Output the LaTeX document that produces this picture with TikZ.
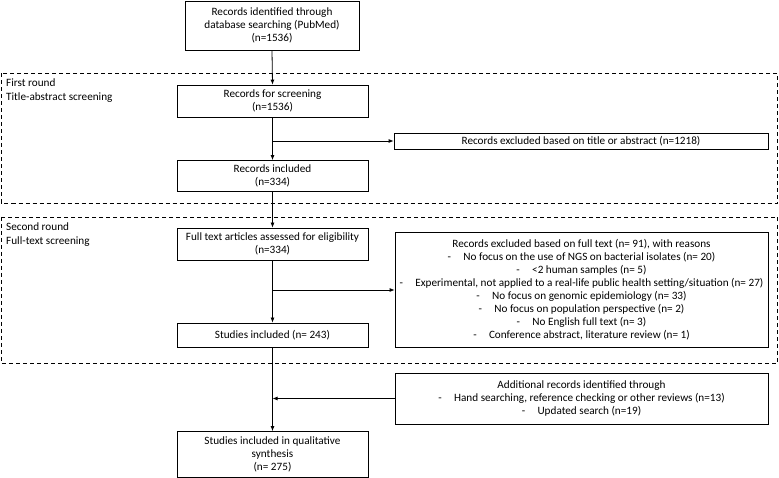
\documentclass[tikz,border=0pt]{standalone}
\usepackage{fontspec}
\setmainfont{Carlito}
\usetikzlibrary{arrows.meta}
\begin{document}
\begin{tikzpicture}[x=1pt,y=-1pt,
  box/.style={draw, line width=0.8pt, align=center, inner sep=0pt,
    font=\fontsize{11.2}{13}\selectfont},
  region/.style={draw, line width=0.6pt, dash pattern=on 4pt off 3pt},
  lbl/.style={align=left, inner sep=0pt, anchor=west, font=\fontsize{11.2}{14}\selectfont},
  conn/.style={line width=0.8pt},
  arr/.style={conn, -{Latex[length=5pt,width=4pt]}}]
\useasboundingbox (0,0) rectangle (779,478);
% regions
\draw[region] (1,73.5) rectangle (777.5,203);
\draw[region] (1,217) rectangle (777.5,363);
\node[lbl] (r1) at (6,91) {First round\\Title-abstract screening};
\node[lbl] (r2) at (6,235) {Second round\\Full-text screening};
% boxes
\node[box, minimum width=174pt, minimum height=49pt] (top) at (272,25.5)
  {Records identified through\\database searching (PubMed)\\(n=1536)};
\node[box, minimum width=191pt, minimum height=32pt] (screen) at (272.5,101)
  {Records for screening\\(n=1536)};
\node[box, minimum width=374pt, minimum height=16pt] (excl1) at (581,141)
  {Records excluded based on title or abstract (n=1218)};
\node[box, minimum width=191pt, minimum height=31pt] (incl) at (272.5,176)
  {Records included\\(n=334)};
\node[box, minimum width=191pt, minimum height=32pt] (full) at (272.5,244)
  {Full text articles assessed for eligibility\\(n=334)};
\node[box, minimum width=373pt, minimum height=115pt] (excl2) at (581.5,289.5)
  {Records excluded based on full text (n= 91), with reasons\\
   -\hspace{1.1em}No focus on the use of NGS on bacterial isolates (n= 20)\\
   -\hspace{1.1em}<2 human samples (n= 5)\\
   -\hspace{1.1em}Experimental, not applied to a real-life public health setting/situation (n= 27)\\
   -\hspace{1.1em}No focus on genomic epidemiology (n= 33)\\
   -\hspace{1.1em}No focus on population perspective (n= 2)\\
   -\hspace{1.1em}No English full text (n= 3)\\
   -\hspace{1.1em}Conference abstract, literature review (n= 1)};
\node[box, minimum width=191pt, minimum height=24pt] (studies) at (272.5,335)
  {Studies included (n= 243)};
\node[box, minimum width=373pt, minimum height=51pt] (addl) at (581.5,398.5)
  {Additional records identified through\\
   -\hspace{1.1em}Hand searching, reference checking or other reviews (n=13)\\
   -\hspace{1.1em}Updated search (n=19)};
\node[box, minimum width=191pt, minimum height=46pt] (final) at (272.5,454.5)
  {Studies included in qualitative\\synthesis\\(n= 275)};
% connectors
\draw[arr] (top.south) -- (screen.north);
\draw[arr] (screen.south) -- (incl.north);
\draw[arr] (screen.south |- excl1.west) -- (excl1.west);
\draw[arr] (incl.south) -- (full.north);
\draw[arr] (full.south) -- (studies.north);
\coordinate (b2) at (full.south |- 0,290);
\draw[arr] (b2) -- (b2 -| excl2.west);
\draw[arr] (studies.south) -- (final.north);
\draw[arr] (addl.west) -- (addl.west -| studies.south);
\end{tikzpicture}
\end{document}
